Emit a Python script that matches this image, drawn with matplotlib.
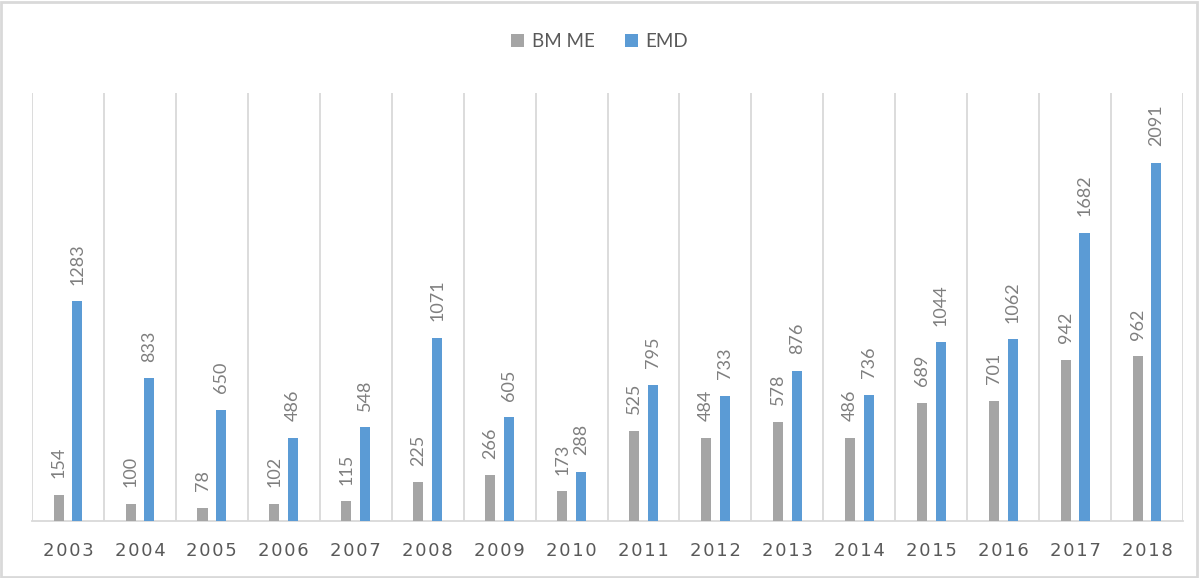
import numpy as np
import matplotlib
matplotlib.use('Agg')
import matplotlib.pyplot as plt
from matplotlib.patches import Rectangle

plt.rcParams['font.family'] = ['Lato', 'DejaVu Sans']

years = ['2003', '2004', '2005', '2006', '2007', '2008', '2009', '2010',
         '2011', '2012', '2013', '2014', '2015', '2016', '2017', '2018']
bm_me = [154, 100, 78, 102, 115, 225, 266, 173, 525, 484, 578, 486, 689, 701, 942, 962]
emd = [1283, 833, 650, 486, 548, 1071, 605, 288, 795, 733, 876, 736, 1044, 1062, 1682, 2091]

gray = '#a5a5a5'
blue = '#5b9bd5'
grid_col = '#d9d9d9'
label_col = '#7f7f7f'
text_col = '#595959'

fig = plt.figure(figsize=(11.99, 5.78), dpi=100)
ax = fig.add_axes([0.0267, 0.0986, 0.96, 0.7405])

x = np.arange(len(years))
w = 0.14
off = 0.13
b1 = ax.bar(x - off, bm_me, w, color=gray, label='BM ME', zorder=3)
b2 = ax.bar(x + off, emd, w, color=blue, label='EMD', zorder=3)

for bars, vals in [(b1, bm_me), (b2, emd)]:
    for rect, v in zip(bars, vals):
        ax.annotate(str(v), (rect.get_x() + rect.get_width() / 2, v),
                    xytext=(0, 12), textcoords='offset points',
                    rotation=90, ha='center', va='bottom',
                    fontsize=13, color=label_col)

ax.set_xlim(-0.5, len(years) - 0.5)
ax.set_ylim(0, 2500)

# vertical separators between categories
for b in np.arange(-0.5, len(years), 1.0):
    ax.axvline(b, color=grid_col, lw=1.3, zorder=1)

ax.set_xticks(x)
ax.set_xticklabels(['\u200a'.join(y) for y in years], fontsize=13, color=text_col,
                   family=['DejaVu Sans'])
ax.tick_params(axis='x', length=0, pad=15)
ax.set_yticks([])
for s in ['top', 'left', 'right']:
    ax.spines[s].set_visible(False)
ax.spines['bottom'].set_color(grid_col)
ax.spines['bottom'].set_linewidth(1.3)

fig.legend(handles=[b1, b2], labels=['BM ME', 'EMD'], loc='center',
           bbox_to_anchor=(0.5, 0.928), ncol=2, frameon=False,
           fontsize=13.5, labelcolor=text_col, handlelength=0.7,
           handleheight=0.7, handletextpad=0.4, columnspacing=1.6)

fig.patches.append(Rectangle((0.001, 0.002), 0.997, 0.995, transform=fig.transFigure,
                             fill=False, edgecolor=grid_col, lw=2))

fig.savefig('out.png', dpi=100)
